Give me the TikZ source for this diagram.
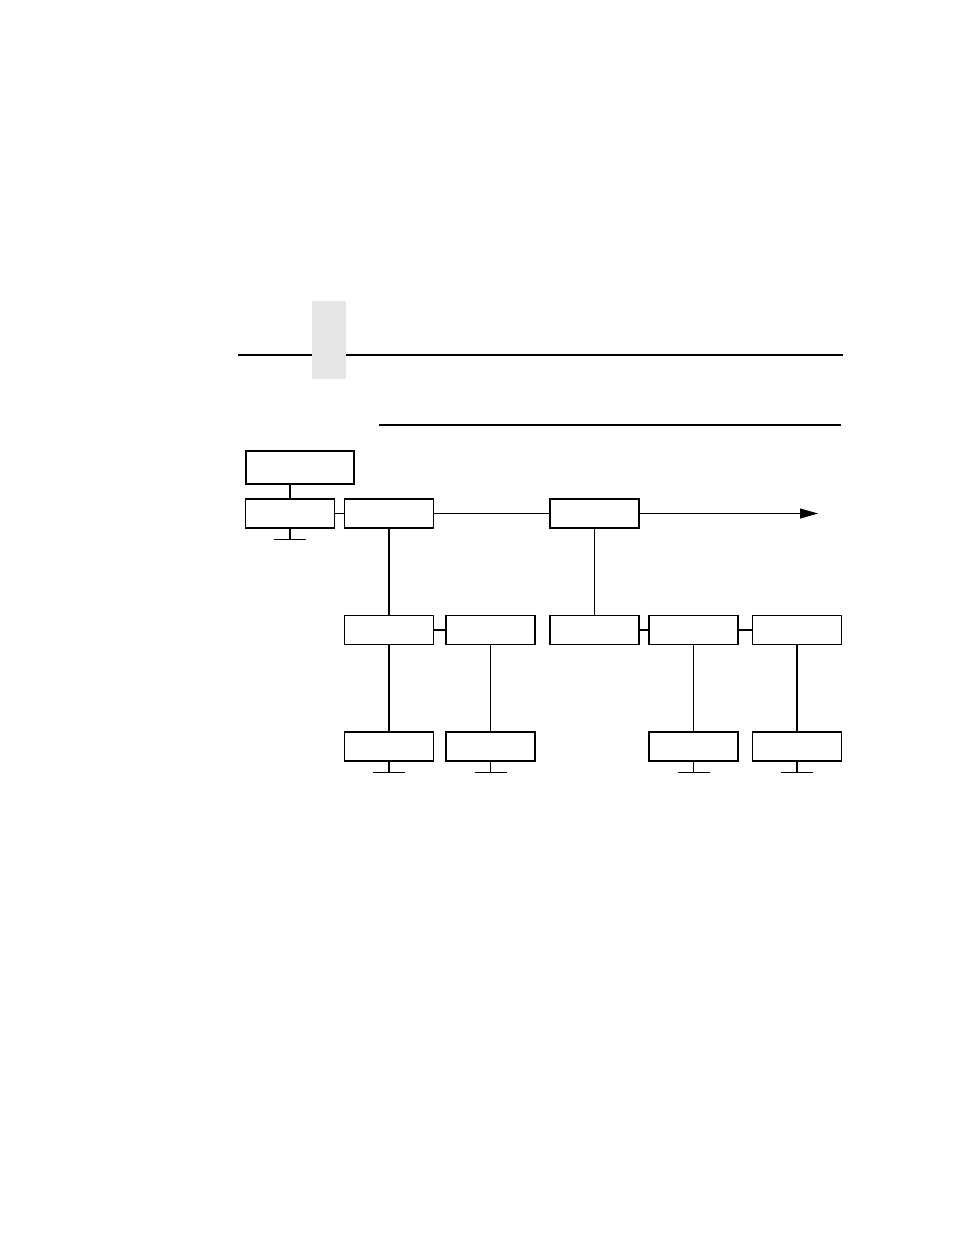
\documentclass[tikz,border=0pt]{standalone}
\usetikzlibrary{arrows.meta}
\tikzset{
    >=Stealth,
    menu/.style={
        x=0.02cm,y=-0.02cm,line width=0.6pt,
        item/.append style={draw,line width=0.6pt,rectangle,minimum width=1.78cm,minimum height=0.58cm,inner sep=0pt},
        head/.append style={item,minimum width=2.16cm,minimum height=0.66cm},
        rule/.append style={line width=0.7pt},
        tab/.append style={fill=black!10},
        next/.append style={-{Triangle[length=3.6mm,width=2mm]}}
    }
}

\begin{document}
\begin{tikzpicture}[menu]
    \useasboundingbox (0,0) rectangle (954,1235);
    \fill[tab] (312,301) rectangle (346,379);
    \draw[rule] (238,355) -- (312,355) (346,355) -- (843,355);
    \draw[rule] (379,425) -- (841,425);
    \node[head] (top) at (300,467.5) {};
    \node[item] (a) at (290,513.5) {};
    \node[item] (b) at (389,513.5) {};
    \node[item] (c) at (594.5,513.5) {};
        \node[item] (g) at (389,630) {};
        \node[item] (h) at (490.5,630) {};
        \node[item] (d) at (594.5,630) {};
        \node[item] (e) at (693.5,630) {};
        \node[item] (f) at (797,630) {};
    \node[item] (g2) at (389,746.5) {};
    \node[item] (h2) at (490.5,746.5) {};
    \node[item] (e2) at (693.5,746.5) {};
    \node[item] (f2) at (797,746.5) {};
    \coordinate (more) at (818,513.5);
    \draw (a |- top.south) -- (a);
    \draw (a) -- (b) (b) -- (c) (g) -- (h) (d) -- (e) (e) -- (f);
    \draw (b) -- (g) (c) -- (d) (g) -- (g2) (h) -- (h2) (e) -- (e2) (f) -- (f2);
    \draw[next] (c) -- (more);
    % ends of branches
    \foreach \n in {a,g2,h2,e2,f2}
        \draw (\n.south) -- ++(0,11) coordinate (\n-end) ++(-16,0) -- ++(32,0);
\end{tikzpicture}
\end{document}
